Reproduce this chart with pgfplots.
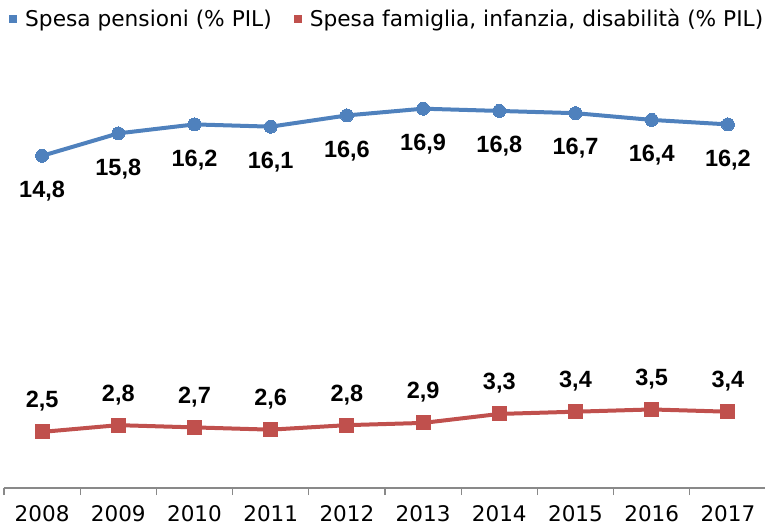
\documentclass[border=0pt]{standalone}
\usepackage{pgfplots}
\pgfplotsset{compat=1.18}
\usepackage{fontspec}
\setmainfont{DejaVu Sans}
\newfontfamily\labfont{Liberation Sans}
\definecolor{pblue}{HTML}{4F81BD}
\definecolor{pred}{HTML}{C0504D}
\definecolor{axgray}{HTML}{898989}

\begin{document}
\begin{tikzpicture}
\useasboundingbox (0pt,0pt) rectangle (765pt,-527pt);
\begin{axis}[
    at={(4pt,-488pt)}, anchor=south west,
    scale only axis, width=762pt, height=404pt,
    xmin=-0.5, xmax=9.5, ymin=0, ymax=18,
    axis x line*=bottom, axis y line=none,
    x axis line style={axgray, line width=1.2pt, -},
    xtick={0,...,9},
    xticklabels={2008,2009,2010,2011,2012,2013,2014,2015,2016,2017},
    major tick length=0pt,
    minor xtick={-0.5,0.5,...,9.5},
    minor tick length=7pt,
    tick align=outside,
    minor tick style={axgray, line width=1.2pt},
    xticklabel style={font=\fontsize{21.5}{24}\selectfont, yshift=-14pt},
    /pgf/number format/.cd, use comma, fixed, fixed zerofill, precision=1, assume math mode=true,
    /pgfplots/.cd,
    nodes near coords,
    every node near coord/.append style={font=\labfont\fontsize{23.5}{26}\selectfont\bfseries, black},
    legend columns=2,
    legend style={at={(5pt,481pt)}, anchor=north west, draw=none, fill=none,
        font=\fontsize{21.7}{24}\selectfont, inner sep=0pt,
        /tikz/every even column/.append style={column sep=20pt}},
    legend image code/.code={\fill[#1, draw=none] (0pt,-4pt) rectangle (8pt,4pt);
        \path[draw=none, fill=none] (0pt,0pt) -- (14pt,0pt);},
    clip=false,
]
\addplot[pblue, line width=4pt, mark=*, mark size=6.5pt,
    mark options={fill=pblue, draw=pblue, line width=0pt},
    nodes near coords align={below}, every node near coord/.append style={yshift=-22pt}]
    coordinates {(0,14.8)(1,15.8)(2,16.2)(3,16.1)(4,16.6)(5,16.9)(6,16.8)(7,16.7)(8,16.4)(9,16.2)};
\addlegendentry{Spesa pensioni (\% PIL)}
\addplot[pred, line width=4pt, mark=square*, mark size=7pt,
    mark options={fill=pred, draw=pred, line width=0pt},
    nodes near coords align={above}, every node near coord/.append style={yshift=17pt}]
    coordinates {(0,2.5)(1,2.8)(2,2.7)(3,2.6)(4,2.8)(5,2.9)(6,3.3)(7,3.4)(8,3.5)(9,3.4)};
\addlegendentry{Spesa famiglia, infanzia, disabilità (\% PIL)}
\end{axis}
\end{tikzpicture}
\end{document}
